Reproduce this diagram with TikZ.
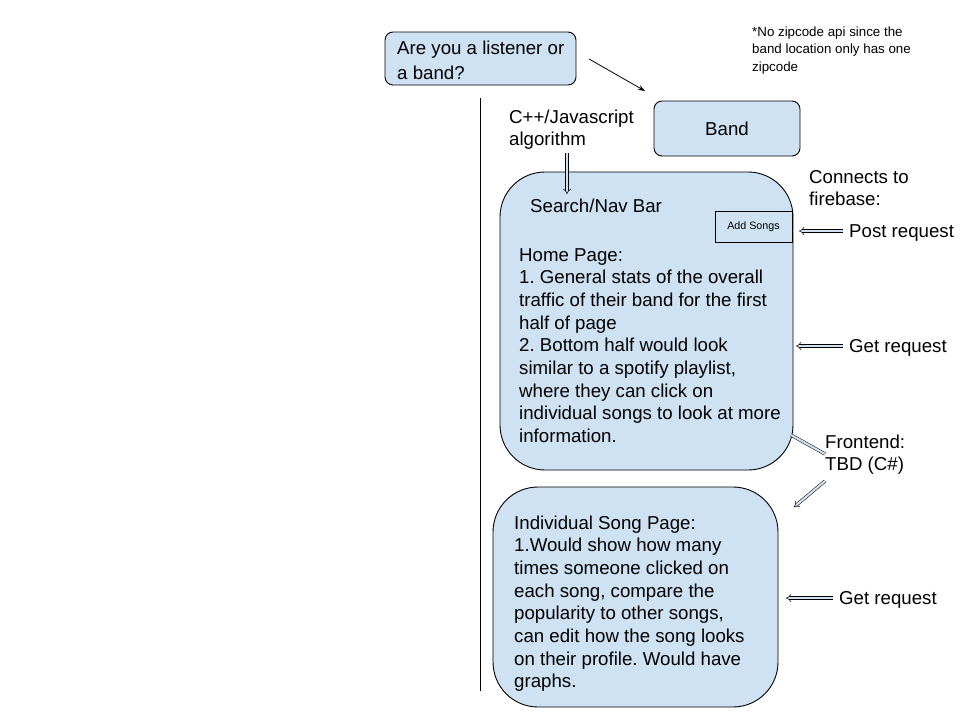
\documentclass[tikz,border=0pt]{standalone}
\usepackage{fontspec}
\setmainfont{Liberation Sans}
\usetikzlibrary{arrows.meta}
\definecolor{lblue}{HTML}{CFE2F3}
\frenchspacing
\begin{document}
\begin{tikzpicture}[x=1pt,y=-1pt,
  box/.style={draw=black, line width=0.9pt, fill=lblue, rounded corners=8pt, inner sep=0pt},
  bigbox/.style={draw=black, line width=0.9pt, fill=lblue, rounded corners=45pt, inner sep=0pt},
  txt/.style={font=\fontsize{18.67}{22.7}\selectfont, inner sep=0pt, align=left, anchor=base west},
  small/.style={font=\fontsize{13.33}{17.5}\selectfont, inner sep=0pt, align=left, anchor=base west},
  hol/.style={draw=black, line width=0.5pt, double=lblue, double distance=2.2pt, -{Implies[length=4pt]}},
  holline/.style={draw=black, line width=0.5pt, double=lblue, double distance=2.2pt},
  thin/.style={draw=black, line width=0.8pt, -{Stealth[length=7pt,width=5pt]}}]
\useasboundingbox (0,0) rectangle (960,720);

% boxes
\node[box, minimum width=191pt, minimum height=53pt] (q) at (480.5,58.5) {};
\node[box, minimum width=146pt, minimum height=55pt, font=\fontsize{18.67}{22.7}\selectfont] (band) at (727,128.5) {Band};
\node[bigbox, minimum width=293pt, minimum height=298pt] (home) at (646.5,321) {};
\node[draw=black, line width=0.8pt, minimum width=77pt, minimum height=31pt, inner sep=0pt,
  font=\fontsize{10.7}{12}\selectfont] (add) at (753.5,226.5) {Add Songs};
\node[bigbox, minimum width=285pt, minimum height=220pt] (song) at (635.5,597) {};

% vertical line
\coordinate (vt) at (480,98);
\coordinate (vb) at (480,691);
\draw[line width=0.9pt] (vt) -- (vb);

% texts (anchor = baseline of the last line)
\node[txt, font=\fontsize{18.67}{25}\selectfont] (qtxt) at (397,79.5) {Are you a listener or\\a band?};
\node[small] (note) at (752,71) {*No zipcode api since the\\band location only has one\\zipcode};
\node[txt] (algo) at (509,145.7) {C++/Javascript\\algorithm};
\node[txt] (nav) at (530,212.5) {Search/Nav Bar};
\node[txt] (hometxt) at (519,442.6) {Home Page:\\1. General stats of the overall\\traffic of their band for the first\\half of page\\2. Bottom half would look\\similar to a spotify playlist,\\where they can click on\\individual songs to look at more\\information.};
\node[txt, font=\fontsize{18.67}{22}\selectfont] (conn) at (809,205) {Connects to\\firebase:};
\node[txt] (post) at (849,237.5) {Post request};
\node[txt] (get1) at (849,352) {Get request};
\node[txt, font=\fontsize{18.67}{22}\selectfont] (front) at (825,470) {Frontend:\\TBD (C\#)};
\node[txt] (songtxt) at (514,687.9) {Individual Song Page:\\1.Would show how many\\times someone clicked on\\each song, compare the\\popularity to other songs,\\can edit how the song looks\\on their profile. Would have\\graphs.};
\node[txt] (get2) at (839,604) {Get request};

% connectors
\coordinate (qa) at (589,59);
\coordinate (ba) at (645,91);
\draw[thin] (qa) -- (ba);

\coordinate (a1) at (567,153);
\coordinate (a2) at (567,194);
\draw[hol] (a1) -- (a2);

\coordinate (p1) at (843,231);
\coordinate (p2) at (799,231);
\draw[hol] (p1) -- (p2);

\coordinate (g1) at (843,346);
\coordinate (g2) at (796,346);
\draw[hol] (g1) -- (g2);

\coordinate (f1) at (791,435);
\coordinate (f2) at (825,454);
\draw[holline] (f1) -- (f2);

\coordinate (f3) at (825,481);
\coordinate (f4) at (794,507);
\draw[hol] (f3) -- (f4);

\coordinate (h1) at (833,598);
\coordinate (h2) at (786,598);
\draw[hol] (h1) -- (h2);
\end{tikzpicture}
\end{document}
